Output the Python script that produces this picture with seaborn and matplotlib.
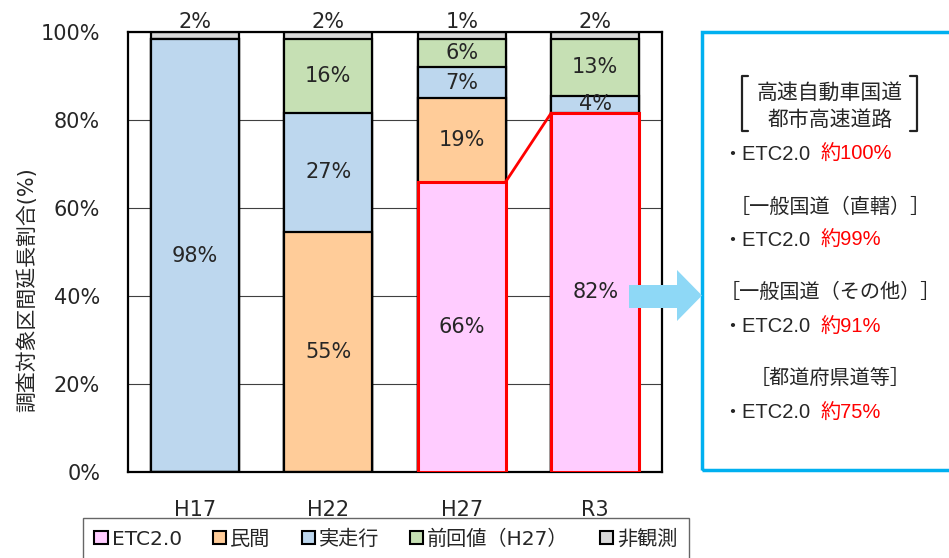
import numpy as np
import matplotlib
matplotlib.use("Agg")
import matplotlib.pyplot as plt
import matplotlib.patches as mpatches
import matplotlib.lines as mlines
import pandas as pd
import seaborn as sns

# data
years = ["H17", "H22", "H27", "R3"]
series = ["ETC2.0", "民間", "実走行", "前回値（H27）", "非観測"]
colors = ["#FFCCFF", "#FFCC99", "#BDD7EE", "#C6E0B4", "#D9D9D9"]
etc2 = [0, 0, 66, 81.6]
minkan = [0, 54.6, 19, 0]
jissou = [98.4, 27, 7, 3.9]
zenkai = [0, 16.8, 6.4, 12.9]
hikansoku = [1.6, 1.6, 1.6, 1.6]
labels = [
    ["", "", "66%", "82%"],
    ["", "55%", "19%", ""],
    ["98%", "27%", "7%", "4%"],
    ["", "16%", "6%", "13%"],
    ["2%", "2%", "1%", "2%"],
]
panel_heads = ["［一般国道（直轄）］", "［一般国道（その他）］", "［都道府県道等］"]
panel_vals = ["約100%", "約99%", "約91%", "約75%"]

sns.set_style("white")
plt.rcParams["font.family"] = ["DejaVu Sans", "Noto Sans CJK JP"]
jp = ["Liberation Sans", "Noto Sans CJK JP"]

W, H = 949, 558
fig = plt.figure(figsize=(W / 100, H / 100), dpi=100)


def fx(x):
    return x / W


def fy(y):
    return 1 - y / H


ax = fig.add_axes([fx(128), fy(472), fx(662) - fx(128), fy(32) - fy(472)])

vals = np.array([etc2, minkan, jissou, zenkai, hikansoku])
cum = vals.cumsum(axis=0)
df = pd.DataFrame({"year": years})

bar_patches = {}
for i in range(len(series) - 1, -1, -1):
    n0 = len(ax.patches)
    df["top"] = cum[i]
    sns.barplot(data=df, x="year", y="top", color=colors[i], width=0.66,
                edgecolor="black", linewidth=1.6, saturation=1, ax=ax, zorder=2)
    bar_patches[i] = ax.patches[n0:]

# ETC2.0 bars outlined in red
for j, p in enumerate(bar_patches[0]):
    if etc2[j] > 0:
        p.set_edgecolor("red")
        p.set_linewidth(2.2)
        p.set_zorder(3)
    else:
        p.set_visible(False)

# connecting red line H27 -> R3
ax.plot([2 + 0.33, 3 - 0.33], [cum[0][2], cum[0][3]], color="red", lw=2, zorder=3)

fs = 15
# segment labels
for i in range(len(series)):
    for j in range(len(years)):
        t = labels[i][j]
        if not t:
            continue
        if i == len(series) - 1:
            ax.text(j, 100.0, t, ha="center", va="bottom", fontsize=fs, clip_on=False)
        else:
            yc = cum[i][j] - vals[i][j] / 2
            z = 2.5 if t == "4%" else 4
            ax.text(j, yc, t, ha="center", va="center", fontsize=fs, zorder=z)

ax.set_xlim(-0.5, 3.5)
ax.set_ylim(0, 100)
ax.set_yticks([0, 20, 40, 60, 80, 100])
ax.set_yticklabels([f"{v}%" for v in range(0, 101, 20)])
ax.set_xlabel("")
ax.set_ylabel("")
ax.yaxis.grid(True, color="#404040", lw=0.8)
ax.set_axisbelow(True)
ax.tick_params(axis="y", length=0, pad=20, labelsize=fs)
ax.tick_params(axis="x", which="major", length=0, pad=20, labelsize=fs)
ax.set_xticks([0.5, 1.5, 2.5], minor=True)
ax.tick_params(axis="x", which="minor", direction="in", length=5, width=0.8, color="#404040")
for s in ax.spines.values():
    s.set_visible(True)
    s.set_color("black")
    s.set_linewidth(1.6)

fig.text(fx(27), fy(290), "調査対象区間延長割合(%)", rotation=90, ha="center", va="center", fontsize=15)

# legend
handles = [mpatches.Patch(facecolor=c, edgecolor="black", linewidth=1.5) for c in colors]
leg = fig.legend(handles, series, ncol=5, loc="center",
                 bbox_to_anchor=(fx(386), fy(539)),
                 fontsize=14.5, frameon=True, fancybox=False,
                 handlelength=0.65, handleheight=0.65, handletextpad=0.2,
                 columnspacing=1.55, borderaxespad=0, borderpad=0.55)
leg.get_frame().set_edgecolor("#404040")
leg.get_frame().set_linewidth(1.0)

# right panel box
fig.patches.append(mpatches.Rectangle((fx(702), fy(470)), fx(980) - fx(702), fy(32) - fy(470),
                                      transform=fig.transFigure, fill=False,
                                      edgecolor="#00B0F0", lw=2.5, zorder=1))

# arrow
arrow_pts = [(629, 285), (677, 285), (677, 270), (702, 295.5), (677, 321), (677, 308), (629, 308)]
fig.patches.append(mpatches.Polygon([(fx(a), fy(b)) for a, b in arrow_pts], closed=True,
                                    transform=fig.transFigure, facecolor="#8ED8F6",
                                    edgecolor="none", zorder=5))

# bracket around first heading
for xs, ys in [([748, 742, 742, 748], [76, 76, 131, 131]), ([910, 917, 917, 910], [76, 76, 131, 131])]:
    fig.lines.append(mlines.Line2D([fx(v) for v in xs], [fy(v) for v in ys],
                                   transform=fig.transFigure, color="#222222", lw=1.6))
fig.text(fx(830), fy(93), "高速自動車国道", ha="center", va="center", fontsize=15, family=jp)
fig.text(fx(830), fy(120), "都市高速道路", ha="center", va="center", fontsize=15, family=jp)

head_pos = [(830, 207), (830, 292), (830, 378)]
for t, (x, y) in zip(panel_heads, head_pos):
    fig.text(fx(x), fy(y), t, ha="center", va="center", fontsize=14.5, family=jp)

val_y = [154, 240, 327, 413]
for v, y in zip(panel_vals, val_y):
    fig.text(fx(722), fy(y), "・ETC2.0", ha="left", va="center", fontsize=14.5, family=jp)
    fig.text(fx(821), fy(y), v, ha="left", va="center", fontsize=14.5, family=jp, color="red")

fig.savefig("out.png", dpi=100)
